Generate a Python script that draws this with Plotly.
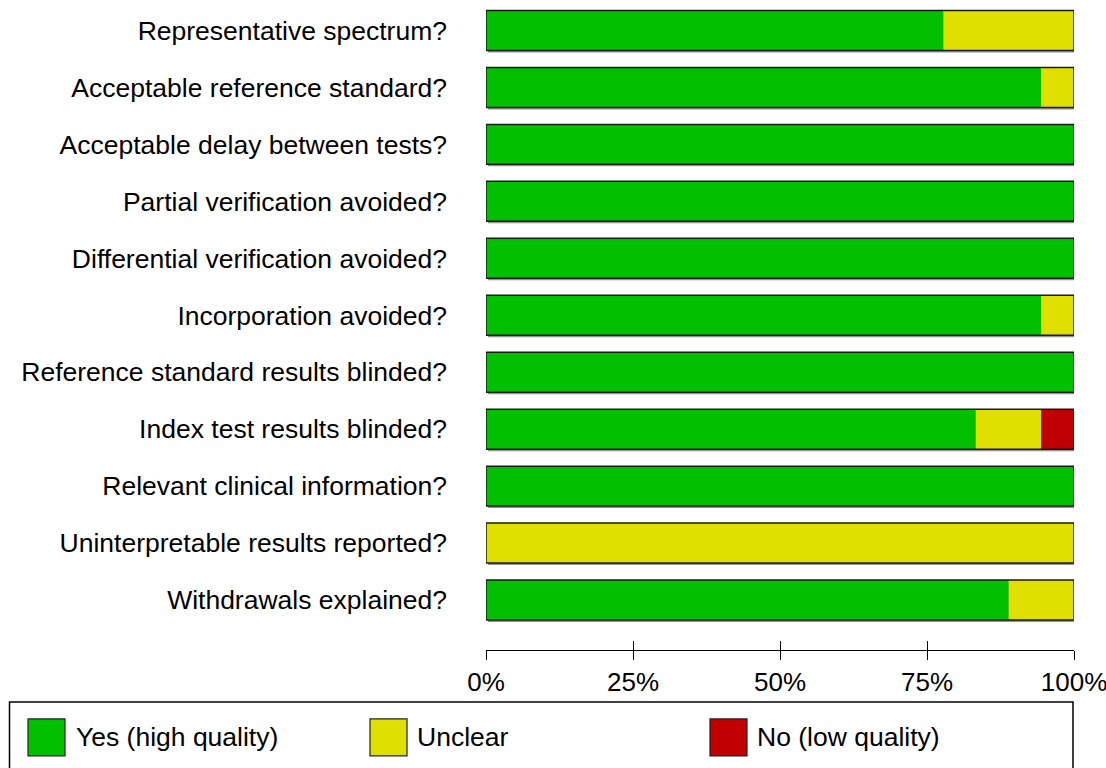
import plotly.graph_objects as go

categories = [
    "Representative spectrum?",
    "Acceptable reference standard?",
    "Acceptable delay between tests?",
    "Partial verification avoided?",
    "Differential verification avoided?",
    "Incorporation avoided?",
    "Reference standard results blinded?",
    "Index test results blinded?",
    "Relevant clinical information?",
    "Uninterpretable results reported?",
    "Withdrawals explained?",
]
yes_pct = [77.8, 94.4, 100, 100, 100, 94.4, 100, 83.3, 100, 0, 88.9]
unclear_pct = [22.2, 5.6, 0, 0, 0, 5.6, 0, 11.1, 0, 100, 11.1]
no_pct = [0, 0, 0, 0, 0, 0, 0, 5.6, 0, 0, 0]
tick_vals = [0, 25, 50, 75, 100]
tick_text = ["0%", "25%", "50%", "75%", "100%"]
legend_labels = ["Yes (high quality)", "Unclear", "No (low quality)"]

GREEN = "#00c000"
YELLOW = "#e0e000"
RED = "#c00000"
FONT = "Liberation Sans, Arial, sans-serif"
FS = 26.5

W, H = 1106, 768
L, R, T, B = 486, 32, 1.5, 118  # plot area 486..1074 x, 1.5..650 y
plot_w = W - L - R
plot_h = H - T - B
row_px = 57.0
bw = 40.0 / row_px
n = len(categories)
y_top = -0.5
y_bot = y_top + plot_h / row_px

fig = go.Figure()

# shadow
px_pct = 100.0 / plot_w
fig.add_trace(go.Bar(
    y=categories, x=[100] * n, base=[2 * px_pct] * n, orientation="h",
    width=bw, offset=-bw / 2 + 2 / row_px,
    marker=dict(color="rgba(110,110,110,0.75)", line=dict(width=0)),
    showlegend=False, hoverinfo="skip"))

bases_y = [0] * n
bases_u = yes_pct
bases_n = [a + b for a, b in zip(yes_pct, unclear_pct)]
for vals, base, col, name in [
    (yes_pct, bases_y, GREEN, legend_labels[0]),
    (unclear_pct, bases_u, YELLOW, legend_labels[1]),
    (no_pct, bases_n, RED, legend_labels[2]),
]:
    fig.add_trace(go.Bar(
        y=categories, x=vals, base=base, orientation="h", width=bw,
        marker=dict(color=col, line=dict(width=0)), name=name,
        showlegend=False))

# outline
fig.add_trace(go.Bar(
    y=categories, x=[100] * n, base=[0] * n, orientation="h", width=bw,
    marker=dict(color="rgba(0,0,0,0)", line=dict(color="#1a1a1a", width=1.5)),
    showlegend=False, hoverinfo="skip"))

# invisible trace to bind xaxis2
fig.add_trace(go.Scatter(x=[0, 100], y=[categories[0], categories[0]], xaxis="x2",
                         mode="markers", marker=dict(opacity=0), showlegend=False,
                         hoverinfo="skip"))

fig.update_layout(
    width=W, height=H,
    margin=dict(l=L, r=R, t=T, b=B, pad=0, autoexpand=False),
    paper_bgcolor="white", plot_bgcolor="white",
    barmode="overlay",
    font=dict(family=FONT, size=FS, color="black"),
    xaxis=dict(range=[0, 100], tickvals=tick_vals, ticktext=tick_text,
               showgrid=False, zeroline=False, showline=True, linecolor="black",
               linewidth=1.2, ticks="outside", ticklen=9, tickwidth=1.2,
               tickcolor="black", tickfont=dict(size=26, family=FONT),
               ticklabeloverflow="allow", automargin=False),
    xaxis2=dict(range=[0, 100], overlaying="x", anchor="y", side="bottom",
                tickvals=tick_vals, showticklabels=False, showgrid=False,
                zeroline=False, showline=False, ticks="inside", ticklen=9,
                tickwidth=1.2, tickcolor="black", automargin=False),
    yaxis=dict(type="category", range=[y_bot, y_top], showgrid=False,
               zeroline=False, showline=False, ticks="", automargin=False,
               tickfont=dict(size=FS, family=FONT), ticklabelstandoff=38),
)

def px_x(p):
    return (p - L) / plot_w

def px_y(p):
    return (T + plot_h - p) / plot_h

# legend box
fig.add_shape(type="rect", xref="paper", yref="paper",
              x0=px_x(9.5), x1=px_x(1073), y0=px_y(702), y1=px_y(800),
              line=dict(color="black", width=1.5), fillcolor="rgba(0,0,0,0)")

legend_items = [(GREEN, 28, 74), (YELLOW, 370, 415), (RED, 710, 755)]
for (col, sx, tx), label in zip(legend_items, legend_labels):
    fig.add_shape(type="rect", xref="paper", yref="paper",
                  x0=px_x(sx), x1=px_x(sx + 37), y0=px_y(756), y1=px_y(719),
                  line=dict(color="#222222", width=1.2), fillcolor=col)
    fig.add_annotation(xref="paper", yref="paper", x=px_x(tx), y=px_y(737.5),
                       text=label, showarrow=False, xanchor="left", yanchor="middle",
                       font=dict(size=FS, family=FONT, color="black"))

fig.write_html("out.html", config={"displayModeBar": False},
               post_script="document.body.style.margin='0';document.body.style.overflow='hidden';")
